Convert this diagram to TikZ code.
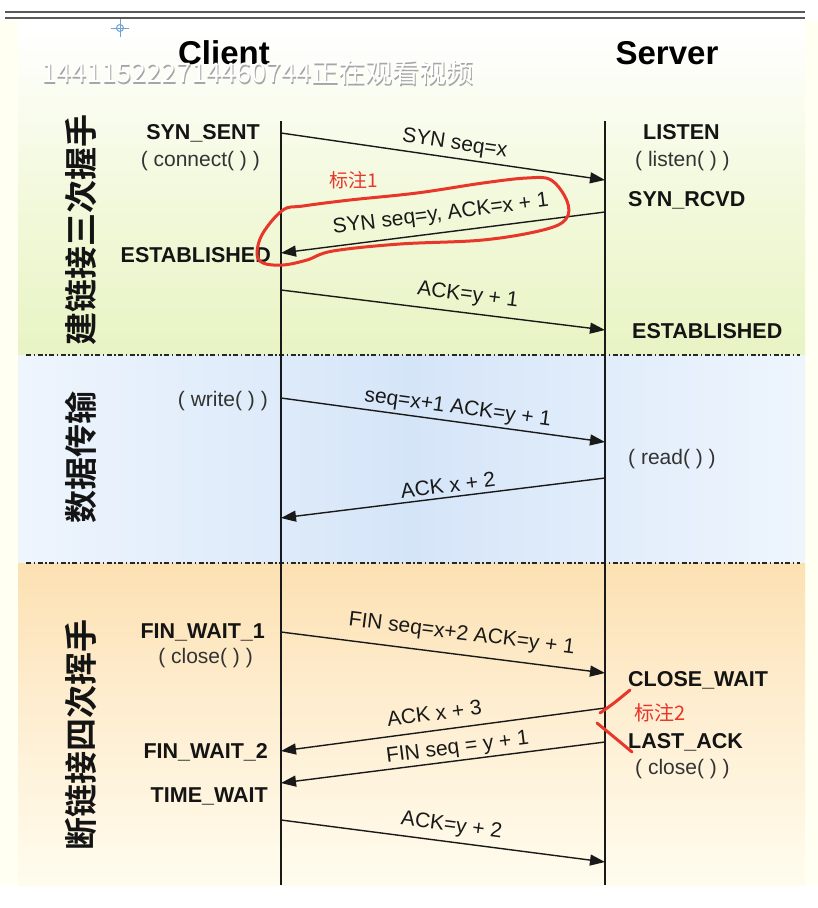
\documentclass[tikz,border=0pt]{standalone}
\usepackage{fontspec}
\setmainfont{Liberation Sans}
\newfontfamily\cjk[BoldFont={Noto Sans CJK SC Bold}]{Noto Sans CJK SC}
\usetikzlibrary{arrows.meta}
\definecolor{cream}{HTML}{FFFFF2}
\definecolor{greenbot}{HTML}{E8F4C4}
\definecolor{greenmid}{HTML}{F3F9DD}
\definecolor{blueedge}{HTML}{EEF5FD}
\definecolor{bluemid}{HTML}{D5E5F8}
\definecolor{orangetop}{HTML}{FCE1B2}
\definecolor{orangemid}{HTML}{FEEDCF}
\definecolor{orangebot}{HTML}{FFFCEE}
\definecolor{annot}{HTML}{E8362B}
\definecolor{icon}{HTML}{6FA3D6}
\begin{document}
\begin{tikzpicture}[x=1pt,y=-1pt,
  msg/.style={line width=1.4pt, black!90, -{Triangle[length=15pt,width=11pt]}},
  lbl/.style={font=\fontsize{21}{21}\selectfont, sloped, anchor=base, inner sep=0pt, text=black!90},
  state/.style={font=\bfseries\fontsize{21.5}{22}\selectfont, inner sep=0pt, text=black!92},
  call/.style={font=\fontsize{21}{22}\selectfont, inner sep=0pt, text=black!80},
  sepline/.style={line width=1.6pt, black!85, dash pattern=on 5pt off 2.5pt on 1.5pt off 2.5pt},
  vlabel/.style={font=\cjk\bfseries\fontsize{33}{33}\selectfont, rotate=90, inner sep=0pt, text=black!92},
  lifeline/.style={line width=1.4pt, black!90},
  redmark/.style={annot, line width=3pt, line cap=round, line join=round},
  redtext/.style={font=\cjk\fontsize{19}{19}\selectfont, text=annot, inner sep=0pt},
  title/.style={font=\bfseries\fontsize{33}{33}\selectfont, inner sep=0pt}
]
\useasboundingbox (0,0) rectangle (818,908);
% backgrounds
\fill[white] (0,0) rectangle (818,908);
\fill[cream] (0,20) rectangle (18,885);
\fill[cream] (805,20) rectangle (818,885);
\shade[top color=white, bottom color=greenmid] (18,30) rectangle (805,190);
\shade[top color=greenmid, bottom color=greenbot] (18,190) rectangle (805,355);
\shade[left color=blueedge, right color=blueedge, middle color=bluemid] (18,355) rectangle (805,563);
\shade[top color=orangetop, bottom color=orangemid] (18,563) rectangle (805,700);
\shade[top color=orangemid, bottom color=orangebot] (18,700) rectangle (805,885);
% top double rule
\draw[line width=2.4pt, black!65] (5,12) -- (805,12);
\draw[line width=2.4pt, black!65] (5,18) -- (805,18);
% small icon
\draw[icon, line width=1pt] (120,28) circle (3.5);
\draw[icon, line width=1pt] (120,19) -- (120,37) (111,28) -- (129,28);
% separators
\coordinate (sepAl) at (26,355); \coordinate (sepAr) at (800,355);
\coordinate (sepBl) at (26,563); \coordinate (sepBr) at (800,563);
\draw[sepline] (sepAl) -- (sepAr);
\draw[sepline] (sepBl) -- (sepBr);
% titles
\node[title] (client) at (224,53) {Client};
\node[title] (server) at (667,53) {Server};
% watermark
\node[font=\cjk\fontsize{27}{27}\selectfont, text=black!35, inner sep=0pt] (wms) at (258.8,73.8) {144115222714460744正在观看视频};
\node[font=\cjk\fontsize{27}{27}\selectfont, text=white, inner sep=0pt] (wm) at (257.5,72.5) {144115222714460744正在观看视频};
% lifelines
\coordinate (ctop) at (281,121); \coordinate (cbot) at (281,885);
\coordinate (stop) at (605,121); \coordinate (sbot) at (605,885);
\draw[lifeline] (ctop) -- (cbot);
\draw[lifeline] (stop) -- (sbot);
% vertical phase labels
\node[vlabel] (ph1) at (81,230) {建链接三次握手};
\node[vlabel] (ph2) at (81,457) {数据传输};
\node[vlabel] (ph3) at (81,735) {断链接四次挥手};
% client states
\node[state, anchor=base east] (synsent) at (260,139) {SYN\_SENT};
\node[call, anchor=base east] (connect) at (260,166) {( connect( ) )};
\node[state, anchor=base east] (cest) at (271,262) {ESTABLISHED};
\node[call, anchor=base east] (write) at (268,406) {( write( ) )};
\node[state, anchor=base east] (fw1) at (265,638) {FIN\_WAIT\_1};
\node[call, anchor=base east] (cclose) at (253,663) {( close( ) )};
\node[state, anchor=base east] (fw2) at (268,758) {FIN\_WAIT\_2};
\node[state, anchor=base east] (tw) at (268,802) {TIME\_WAIT};
% server states
\node[state, anchor=base west] (listen) at (643,139) {LISTEN};
\node[call, anchor=base west] (listenc) at (635,166) {( listen( ) )};
\node[state, anchor=base west] (synrcvd) at (628,206) {SYN\_RCVD};
\node[state, anchor=base west] (sest) at (632,338) {ESTABLISHED};
\node[call, anchor=base west] (read) at (628,464) {( read( ) )};
\node[state, anchor=base west] (closewait) at (628,686) {CLOSE\_WAIT};
\node[state, anchor=base west] (lastack) at (628,748) {LAST\_ACK};
\node[call, anchor=base west] (sclose) at (635,774) {( close( ) )};
% message endpoints
\coordinate (c1) at (281,133); \coordinate (s1) at (605,180);
\coordinate (s2) at (605,212); \coordinate (c2) at (281,253);
\coordinate (c3) at (281,290); \coordinate (s3) at (605,330);
\coordinate (c4) at (281,398); \coordinate (s4) at (605,442);
\coordinate (s5) at (605,478); \coordinate (c5) at (281,518);
\coordinate (c6) at (281,632); \coordinate (s6) at (605,673);
\coordinate (s7) at (605,708); \coordinate (c7) at (281,751);
\coordinate (s8) at (605,742); \coordinate (c8) at (281,783);
\coordinate (c9) at (281,820); \coordinate (s9) at (605,862);
% messages
\draw[msg] (c1) -- node[lbl, pos=0.53, yshift=8.5pt] {SYN seq=x} (s1);
\draw[msg] (s2) -- node[lbl, pos=0.5, yshift=12.5pt] {SYN seq=y, ACK=x + 1} (c2);
\draw[msg] (c3) -- node[lbl, pos=0.57, yshift=12pt] {ACK=y + 1} (s3);
\draw[msg] (c4) -- node[lbl, pos=0.54, yshift=8pt] {seq=x+1 ACK=y + 1} (s4);
\draw[msg] (s5) -- node[lbl, pos=0.48, yshift=5pt] {ACK x + 2} (c5);
\draw[msg] (c6) -- node[lbl, pos=0.55, yshift=15pt] {FIN seq=x+2 ACK=y + 1} (s6);
\draw[msg] (s7) -- node[lbl, pos=0.52, yshift=10pt] {ACK x + 3} (c7);
\draw[msg] (s8) -- node[lbl, pos=0.45, yshift=7pt] {FIN seq = y + 1} (c8);
\draw[msg] (c9) -- node[lbl, pos=0.52, yshift=10.5pt] {ACK=y + 2} (s9);
% annotations
\node[redtext] (note1) at (354,180) {标注1};
\draw[redmark] plot[smooth cycle, tension=0.6] coordinates {(283,210) (303,206) (350,200) (417,193) (483,183) (527,178) (551,180) (567,201) (566,219) (543,230) (483,240) (400,244) (333,251) (307,260) (283,265) (263,263) (257,253) (263,233)};
\node[redtext, font=\cjk\fontsize{20}{20}\selectfont] (note2) at (660,713) {标注2};
\draw[redmark] plot[smooth, tension=0.6] coordinates {(630,690) (614,703) (600,713)};
\draw[redmark] plot[smooth, tension=0.6] coordinates {(597,723) (614,737) (632,752)};
\end{tikzpicture}
\end{document}
